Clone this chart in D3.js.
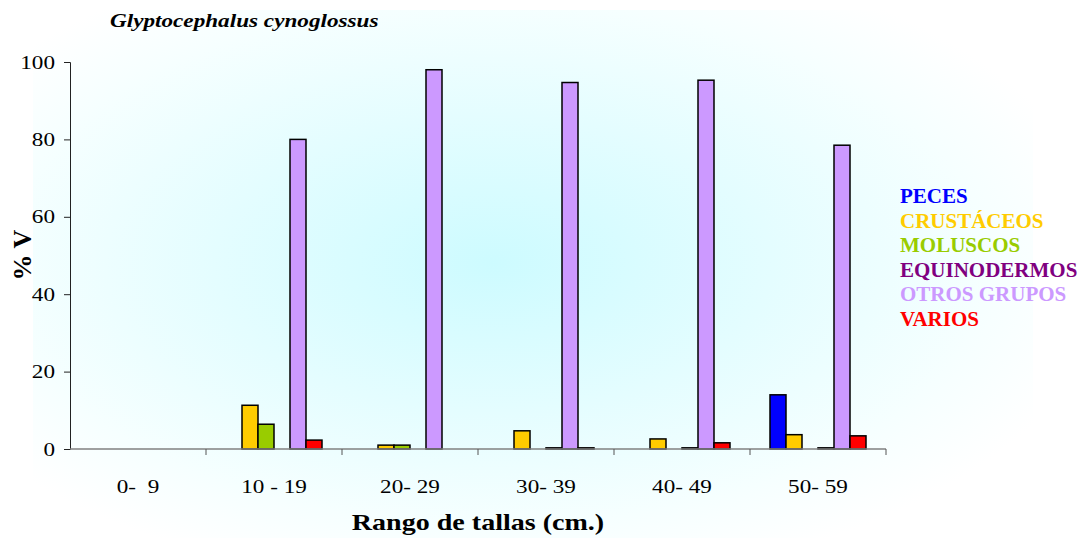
<!DOCTYPE html>
<html>
<head>
<meta charset="utf-8">
<script src="https://cdn.jsdelivr.net/npm/d3@7"></script>
<style>
  body { margin: 0; background: #fff; }
  svg { display: block; font-family: "Liberation Serif", "Times New Roman", serif; }
</style>
</head>
<body>
<script>
// data
const sizeRanges = ['0-  9', '10 - 19', '20- 29', '30- 39', '40- 49', '50- 59'];
const groups = ['PECES', 'CRUSTÁCEOS', 'MOLUSCOS', 'EQUINODERMOS', 'OTROS GRUPOS', 'VARIOS'];
const groupColors = ['#0000ff', '#ffcc00', '#99cc00', '#800080', '#cc99ff', '#ff0000'];
const peces        = [0, 0, 0, 0, 0, 14.0];
const crustaceos   = [0, 11.3, 1.0, 4.7, 2.6, 3.7];
const moluscos     = [0, 6.4, 1.0, 0, 0, 0];
const equinodermos = [0, 0, 0, 0.3, 0.3, 0.3];
const otrosGrupos  = [0, 80.0, 98.0, 94.7, 95.3, 78.5];
const varios       = [0, 2.3, 0, 0.3, 1.6, 3.4];
const yTicks = [0, 20, 40, 60, 80, 100];

const seriesValues = [peces, crustaceos, moluscos, equinodermos, otrosGrupos, varios];

const width = 1084, height = 538;
const margin = { left: 70, top: 62, right: 198, bottom: 89 };
const plotW = width - margin.left - margin.right;
const plotH = height - margin.top - margin.bottom;
const stretch = 1.22; // the original text is drawn a bit wide

const svg = d3.select('body').append('svg')
	.attr('width', width)
	.attr('height', height);

// soft cyan background glow
const defs = svg.append('defs');
const grad = defs.append('radialGradient')
	.attr('id', 'bg')
	.attr('cx', '46%').attr('cy', '48%').attr('r', '62%');
grad.append('stop').attr('offset', '0%').attr('stop-color', '#cdfbff');
grad.append('stop').attr('offset', '45%').attr('stop-color', '#e4fdff');
grad.append('stop').attr('offset', '80%').attr('stop-color', '#f6ffff');
grad.append('stop').attr('offset', '100%').attr('stop-color', '#ffffff');
svg.append('rect')
	.attr('x', 33).attr('y', 10)
	.attr('width', 1000).attr('height', 528)
	.attr('fill', 'url(#bg)');

const g = svg.append('g').attr('transform', 'translate(' + margin.left + ',' + margin.top + ')');

const xScale = d3.scaleBand().domain(sizeRanges).range([0, plotW]).paddingInner(0).paddingOuter(0);
const xInner = d3.scaleBand().domain(groups).range([20, xScale.bandwidth() - 20]);
const yScale = d3.scaleLinear().domain([0, 100]).range([plotH, 0]);

// bars
const cats = g.selectAll('.cat')
	.data(sizeRanges)
	.enter()
	.append('g')
	.attr('transform', (d) => 'translate(' + xScale(d) + ',0)');

cats.selectAll('rect')
	.data((d, i) => groups.map((name, k) => ({ name: name, k: k, value: seriesValues[k][i] })).filter((e) => e.value > 0))
	.enter()
	.append('rect')
	.attr('x', (e) => xInner(e.name))
	.attr('y', (e) => yScale(e.value))
	.attr('width', xInner.bandwidth())
	.attr('height', (e) => plotH - yScale(e.value))
	.style('fill', (e) => groupColors[e.k])
	.style('stroke', '#000')
	.style('stroke-width', 1.5);

// y axis
const yAxis = d3.axisLeft(yScale).tickValues(yTicks).tickSize(6).tickFormat('');
const yAxisSel = g.append('g').call(yAxis);
yAxisSel.select('.domain').attr('stroke', '#222');
yAxisSel.selectAll('.tick line').attr('stroke', '#222');
yAxisSel.selectAll('.tick')
	.append('text')
	.attr('transform', 'translate(-15,6) scale(' + stretch + ',1)')
	.attr('text-anchor', 'end')
	.attr('fill', '#000')
	.style('font-size', '19px')
	.style('font-family', '"Liberation Serif", serif')
	.text((d) => d);

// x axis: ticks at category boundaries
const xAxisSel = g.append('g').attr('transform', 'translate(0,' + plotH + ')');
xAxisSel.append('line')
	.attr('x1', 0).attr('x2', plotW)
	.attr('stroke', '#808080').attr('stroke-width', 1.5);
xAxisSel.selectAll('.bt')
	.data(sizeRanges)
	.enter()
	.append('line')
	.attr('x1', (d) => xScale(d) + xScale.bandwidth())
	.attr('x2', (d) => xScale(d) + xScale.bandwidth())
	.attr('y1', 0).attr('y2', 6)
	.attr('stroke', '#555');
xAxisSel.selectAll('.lbl')
	.data(sizeRanges)
	.enter()
	.append('text')
	.attr('transform', (d) => 'translate(' + (xScale(d) + xScale.bandwidth() / 2) + ',44) scale(' + stretch + ',1)')
	.attr('text-anchor', 'middle')
	.attr('xml:space', 'preserve')
	.style('font-size', '19px')
	.style('white-space', 'pre')
	.text((d) => d);

// titles
svg.append('text')
	.attr('transform', 'translate(110,27) scale(' + stretch + ',1)')
	.style('font-size', '19px')
	.style('font-weight', 'bold')
	.style('font-style', 'italic')
	.text('Glyptocephalus cynoglossus');

svg.append('text')
	.attr('transform', 'translate(31,255) rotate(-90)')
	.attr('text-anchor', 'middle')
	.style('font-size', '26px')
	.style('font-weight', 'bold')
	.text('% V');

svg.append('text')
	.attr('transform', 'translate(478,530) scale(' + stretch + ',1)')
	.attr('text-anchor', 'middle')
	.style('font-size', '23px')
	.style('font-weight', 'bold')
	.text('Rango de tallas (cm.)');

// legend (coloured text only)
svg.append('g')
	.selectAll('text')
	.data(groups)
	.enter()
	.append('text')
	.attr('x', 900)
	.attr('y', (d, i) => 203 + i * 24.6)
	.style('font-size', '21px')
	.style('font-weight', 'bold')
	.style('fill', (d, i) => groupColors[i])
	.text((d) => d);
</script>
</body>
</html>
